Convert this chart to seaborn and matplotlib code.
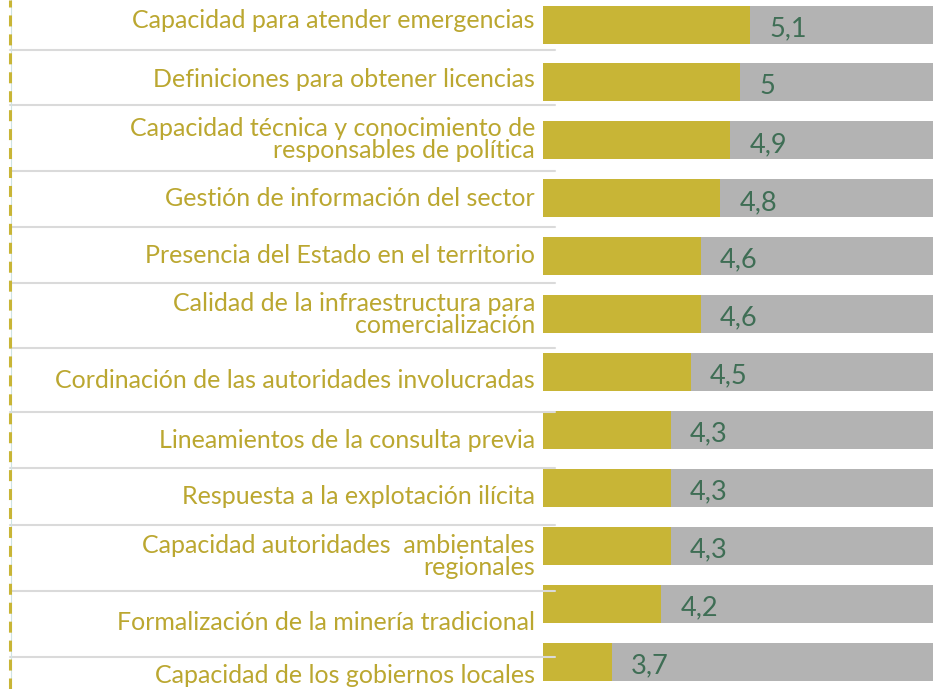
import numpy as np
import pandas as pd
import matplotlib.pyplot as plt
import matplotlib.transforms as mtransforms
from matplotlib.lines import Line2D
import seaborn as sns

# Data
items = [
    "Capacidad para atender emergencias",
    "Definiciones para obtener licencias",
    "Capacidad técnica y conocimiento de\nresponsables de política",
    "Gestión de información del sector",
    "Presencia del Estado en el territorio",
    "Calidad de la infraestructura para\ncomercialización",
    "Cordinación de las autoridades involucradas",
    "Lineamientos de la consulta previa",
    "Respuesta a la explotación ilícita",
    "Capacidad autoridades  ambientales\nregionales",
    "Formalización de la minería tradicional",
    "Capacidad de los gobiernos locales",
]
values = [5.1, 5.0, 4.9, 4.8, 4.6, 4.6, 4.5, 4.3, 4.3, 4.3, 4.2, 3.7]
scale_max = 7

# layout (pixels) - label offsets from bar centre and row separators
label_shift_px = [-4, -3, -1, 0, -1, 0, 8, 10, 8, 10, 18, 14]
separator_px = [50, 105, 171, 227, 283, 348, 412, 468, 525, 591, 657]

gold = "#C8B536"
gold_text = "#BBA730"
grey = "#B3B3B3"
green_text = "#3F6E55"
sep_color = "#DADADA"

sns.set_theme(style="white")
plt.rcParams['font.family'] = ['Lato', 'DejaVu Sans']

W, H = 933, 689
fig = plt.figure(figsize=(W / 100, H / 100), dpi=100)
ax = fig.add_axes([543 / W, 0, 390 / W, 1])

df = pd.DataFrame({"item": items, "valor": values})
df["fondo"] = scale_max
bar_h = 38 / 57.95

sns.barplot(data=df, x="fondo", y="item", color=grey, saturation=1,
            width=bar_h, linewidth=0, ax=ax, orient="h")
sns.barplot(data=df, x="valor", y="item", color=gold, saturation=1,
            width=bar_h, linewidth=0, ax=ax, orient="h")

px_per_unit = 98.6
ax.set_xlim(3, 3 + 390 / px_per_unit)
row_px = 57.95
ax.set_ylim((H - 24.5) / row_px, -24.5 / row_px)
ax.axis("off")

for i, v in enumerate(values):
    txt = f"{v:g}".replace(".", ",")
    ax.text(v + 19 / px_per_unit, i + 4 / row_px, txt, ha="left", va="center",
            fontsize=19.5, color=green_text, clip_on=False)

trans = mtransforms.blended_transform_factory(fig.transFigure, ax.transData)
for i, lab in enumerate(items):
    ax.text(535 / W, i + label_shift_px[i] / row_px, lab, transform=trans,
            ha="right", va="center", multialignment="right", linespacing=0.95,
            fontsize=18, color=gold_text, clip_on=False)

for s in separator_px:
    y = (s - 24.5) / row_px
    ax.add_line(Line2D([10 / W, 555 / W], [y, y], transform=trans, color=sep_color,
                       linewidth=1.5, clip_on=False, zorder=5))

# dashed frame line on the left
fig.add_artist(Line2D([10.5 / W, 10.5 / W], [0, 1], transform=fig.transFigure,
                      color="#CFE3E3", linewidth=0.8))
fig.add_artist(Line2D([9.5 / W, 9.5 / W], [0, 1], transform=fig.transFigure,
                      color=gold, linewidth=2.2, linestyle=(0, (3.6, 2.6))))

fig.savefig("out.png", dpi=100)
